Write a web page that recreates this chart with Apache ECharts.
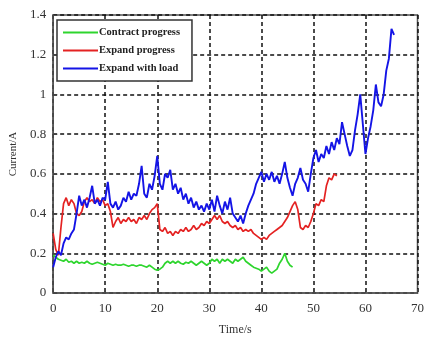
<!DOCTYPE html>
<html>
<head>
<meta charset="utf-8">
<script src="https://cdn.jsdelivr.net/npm/echarts@6/dist/echarts.min.js"></script>
<style>
html, body { margin: 0; padding: 0; background: #fff; }
#main { width: 427px; height: 341px; }
</style>
</head>
<body>
<div id="main"></div>
<script>
var myChart = echarts.init(document.getElementById('main'));

// sample times, s (0.5 s step)
var timeS = [
    0, 0.5, 1, 1.5, 2, 2.5, 3, 3.5, 4, 4.5, 5, 5.5, 6, 6.5, 7, 7.5, 8, 8.5, 9, 9.5,
    10, 10.5, 11, 11.5, 12, 12.5, 13, 13.5, 14, 14.5, 15, 15.5, 16, 16.5, 17, 17.5, 18, 18.5, 19, 19.5,
    20, 20.5, 21, 21.5, 22, 22.5, 23, 23.5, 24, 24.5, 25, 25.5, 26, 26.5, 27, 27.5, 28, 28.5, 29, 29.5,
    30, 30.5, 31, 31.5, 32, 32.5, 33, 33.5, 34, 34.5, 35, 35.5, 36, 36.5, 37, 37.5, 38, 38.5, 39, 39.5,
    40, 40.5, 41, 41.5, 42, 42.5, 43, 43.5, 44, 44.5, 45, 45.5, 46, 46.5, 47, 47.5, 48, 48.5, 49, 49.5,
    50, 50.5, 51, 51.5, 52, 52.5, 53, 53.5, 54, 54.5, 55, 55.5, 56, 56.5, 57, 57.5, 58, 58.5, 59, 59.5,
    60, 60.5, 61, 61.5, 62, 62.5, 63, 63.5, 64, 64.5, 65, 65.5
];

// Contract progress, A
var contractA = [
    0.19, 0.18, 0.17, 0.165, 0.16, 0.17, 0.155, 0.16, 0.15, 0.16, 0.15, 0.155, 0.15, 0.16, 0.15, 0.145, 0.15, 0.155, 0.15, 0.145,
    0.14, 0.15, 0.145, 0.14, 0.145, 0.14, 0.14, 0.145, 0.14, 0.135, 0.14, 0.14, 0.135, 0.14, 0.14, 0.135, 0.13, 0.14, 0.13, 0.12,
    0.115, 0.12, 0.13, 0.15, 0.16, 0.15, 0.16, 0.15, 0.16, 0.15, 0.145, 0.155, 0.15, 0.16, 0.15, 0.14, 0.15, 0.16, 0.15, 0.14,
    0.15, 0.17, 0.16, 0.17, 0.15, 0.17, 0.16, 0.17, 0.16, 0.15, 0.17, 0.16, 0.17, 0.18, 0.16, 0.15, 0.14, 0.13, 0.125, 0.12,
    0.11, 0.12, 0.13, 0.11, 0.10, 0.11, 0.12, 0.15, 0.17, 0.20, 0.16, 0.14, 0.13
];

// Expand progress, A
var expandA = [
    0.30, 0.22, 0.19, 0.33, 0.45, 0.48, 0.44, 0.47, 0.45, 0.40, 0.39, 0.41, 0.46, 0.48, 0.46, 0.47, 0.45, 0.48, 0.46, 0.47,
    0.44, 0.45, 0.41, 0.33, 0.36, 0.38, 0.35, 0.37, 0.36, 0.38, 0.36, 0.37, 0.35, 0.38, 0.37, 0.39, 0.37, 0.40, 0.42, 0.43,
    0.45, 0.32, 0.31, 0.33, 0.30, 0.31, 0.29, 0.31, 0.30, 0.32, 0.31, 0.33, 0.31, 0.32, 0.34, 0.32, 0.33, 0.35, 0.34, 0.36,
    0.35, 0.37, 0.39, 0.37, 0.39, 0.36, 0.35, 0.36, 0.34, 0.33, 0.34, 0.32, 0.33, 0.31, 0.32, 0.31, 0.32, 0.30, 0.29, 0.28,
    0.27, 0.28, 0.27, 0.29, 0.30, 0.31, 0.32, 0.33, 0.34, 0.36, 0.38, 0.41, 0.44, 0.46, 0.42, 0.33, 0.32, 0.34, 0.33, 0.36,
    0.40, 0.45, 0.44, 0.47, 0.46, 0.54, 0.58, 0.57, 0.60, 0.59
];

// Expand with load, A
var loadA = [
    0.13, 0.18, 0.21, 0.19, 0.25, 0.28, 0.27, 0.30, 0.32, 0.40, 0.49, 0.44, 0.47, 0.43, 0.48, 0.54, 0.45, 0.47, 0.44, 0.48,
    0.47, 0.56, 0.45, 0.43, 0.46, 0.42, 0.44, 0.48, 0.46, 0.51, 0.47, 0.50, 0.49, 0.55, 0.64, 0.50, 0.48, 0.55, 0.52, 0.59,
    0.69, 0.55, 0.52, 0.60, 0.58, 0.62, 0.52, 0.55, 0.50, 0.53, 0.47, 0.50, 0.45, 0.48, 0.43, 0.46, 0.42, 0.44, 0.41, 0.45,
    0.42, 0.47, 0.41, 0.49, 0.44, 0.40, 0.46, 0.42, 0.48, 0.40, 0.38, 0.36, 0.39, 0.35, 0.40, 0.44, 0.47, 0.50, 0.55, 0.58,
    0.61, 0.56, 0.60, 0.57, 0.61, 0.56, 0.59, 0.55, 0.60, 0.66, 0.58, 0.53, 0.49, 0.55, 0.58, 0.63, 0.57, 0.55, 0.51, 0.60,
    0.68, 0.72, 0.66, 0.70, 0.68, 0.74, 0.70, 0.76, 0.72, 0.78, 0.75, 0.86, 0.80, 0.74, 0.69, 0.72, 0.82, 0.90, 1.00, 0.85,
    0.70, 0.78, 0.84, 0.92, 1.05, 0.96, 0.94, 1.00, 1.12, 1.18, 1.33, 1.30
];

function pairs(vals) {
    return vals.map(function (v, i) { return [timeS[i], v]; });
}

var serif = '"Liberation Serif", "DejaVu Serif", serif';

var gridLine = {
    show: true,
    lineStyle: { color: '#111', width: 1.5, type: [4, 3] }
};

option = {
    backgroundColor: '#fff',
    animation: false,
    grid: {
        left: 52,
        right: 4,
        top: 15,
        bottom: 35,
        show: true,
        borderColor: '#555',
        borderWidth: 1.5
    },
    legend: {
        left: 57,
        top: 20,
        orient: 'vertical',
        padding: [7, 12, 7, 6],
        borderColor: '#333',
        borderWidth: 1.5,
        backgroundColor: '#fff',
        itemWidth: 35,
        itemHeight: 2,
        itemGap: 7,
        icon: 'rect',
        data: ['Contract progress', 'Expand progress', 'Expand with load'],
        textStyle: {
            fontFamily: serif,
            fontWeight: 'bold',
            fontSize: 10.5,
            color: '#222',
            padding: [0, 0, 0, -4]
        }
    },
    xAxis: {
        type: 'value',
        min: 0,
        max: 70,
        interval: 10,
        name: 'Time/s',
        nameLocation: 'middle',
        nameGap: 31,
        nameTextStyle: { fontFamily: serif, fontSize: 12, color: '#333' },
        axisLine: { show: true, lineStyle: { color: '#555', width: 1.5 } },
        axisTick: { inside: true, length: 4, lineStyle: { color: '#444' } },
        axisLabel: { fontFamily: serif, fontSize: 13, color: '#333', margin: 9 },
        splitLine: gridLine
    },
    yAxis: {
        type: 'value',
        min: 0,
        max: 1.4,
        interval: 0.2,
        name: 'Current/A',
        nameLocation: 'middle',
        nameGap: 33,
        nameTextStyle: { fontFamily: serif, fontSize: 11, color: '#333' },
        axisLine: { show: true, lineStyle: { color: '#555', width: 1.5 } },
        axisTick: { inside: true, length: 4, lineStyle: { color: '#444' } },
        axisLabel: { fontFamily: serif, fontSize: 13, color: '#333', margin: 7 },
        splitLine: gridLine
    },
    series: [
        {
            name: 'Contract progress',
            type: 'line',
            showSymbol: false,
            color: '#2ed52e',
            lineStyle: { width: 1.7 },
            data: pairs(contractA)
        },
        {
            name: 'Expand progress',
            type: 'line',
            showSymbol: false,
            color: '#e42222',
            lineStyle: { width: 1.7 },
            data: pairs(expandA)
        },
        {
            name: 'Expand with load',
            type: 'line',
            showSymbol: false,
            color: '#1414e6',
            lineStyle: { width: 1.9 },
            data: pairs(loadA)
        }
    ]
};

myChart.setOption(option);
</script>
</body>
</html>
